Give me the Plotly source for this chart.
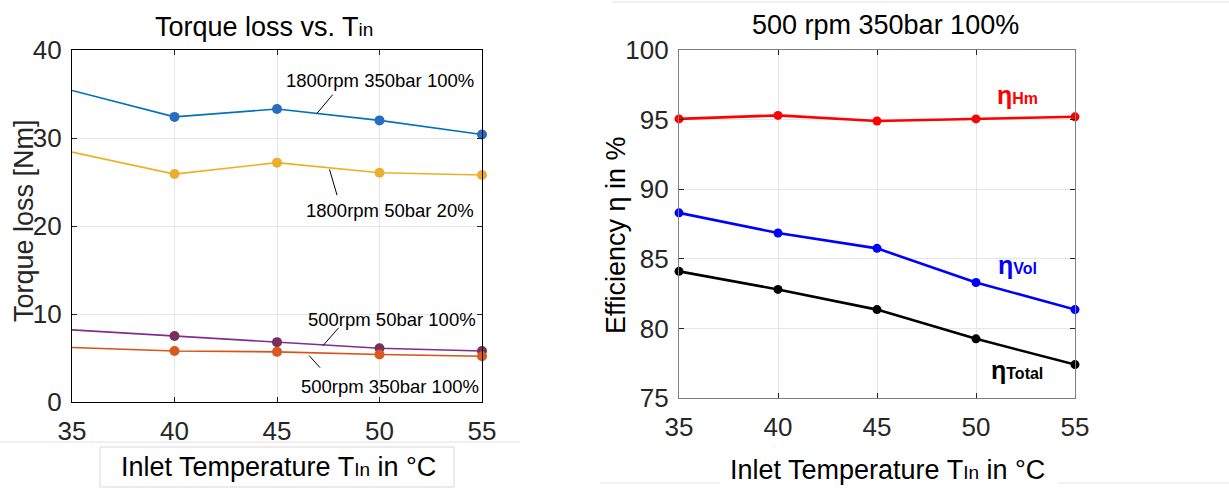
import plotly.graph_objects as go

# ---------------- data ----------------
temps = [35, 40, 45, 50, 55]
x_ticks = [35, 40, 45, 50, 55]

torque_1800_350_100 = [35.4, 32.4, 33.3, 32.0, 30.4]
torque_1800_50_20 = [28.4, 25.9, 27.2, 26.05, 25.8]
torque_500_50_100 = [8.2, 7.5, 6.8, 6.1, 5.8]
torque_500_350_100 = [6.2, 5.8, 5.7, 5.4, 5.2]

eta_hm = [95.05, 95.3, 94.9, 95.05, 95.2]
eta_vol = [88.3, 86.85, 85.75, 83.3, 81.35]
eta_total = [84.1, 82.8, 81.35, 79.25, 77.4]

left_labels = ["1800rpm 350bar 100%", "1800rpm 50bar 20%", "500rpm 50bar 100%", "500rpm 350bar 100%"]

FONT = "Liberation Sans Narrow, Arial Narrow, Liberation Sans, Arial, sans-serif"
W, H = 1229, 489

def px_x(p):
    return p / W

def px_y(p):
    return 1 - p / H

fig = go.Figure()

left_marker_sizes = [0, 10, 10, 10, 10]

def add_left(y, line_color, marker_color):
    fig.add_trace(go.Scatter(
        x=temps, y=y, mode="lines+markers",
        line=dict(color=line_color, width=1.6),
        marker=dict(color=marker_color, size=left_marker_sizes, opacity=1, line=dict(width=0)),
        xaxis="x", yaxis="y", showlegend=False, cliponaxis=False))

add_left(torque_1800_350_100, "#0072BD", "#2A6CC0")
add_left(torque_1800_50_20, "#EDB120", "#E9B030")
add_left(torque_500_50_100, "#7E2F8E", "#77305C")
add_left(torque_500_350_100, "#D95319", "#D65A22")

def add_right(y, color):
    fig.add_trace(go.Scatter(
        x=temps, y=y, mode="lines+markers",
        line=dict(color=color, width=2.6),
        marker=dict(color=color, size=9, opacity=1, line=dict(width=0)),
        xaxis="x2", yaxis="y2", showlegend=False, cliponaxis=False))

add_right(eta_hm, "#FF0000")
add_right(eta_vol, "#0000FF")
add_right(eta_total, "#000000")

axis_common = dict(
    showline=True, linewidth=1.3, mirror="ticks", automargin=False,
    ticks="inside", ticklen=5, tickcolor="#262626",
    showgrid=True, gridcolor="#E6E6E6", gridwidth=1, zeroline=False,
    tickfont=dict(family=FONT, size=26, color="#262626"),
)

fig.update_layout(
    template="none",
    width=W, height=H, autosize=False,
    margin=dict(l=0, r=0, t=0, b=0, pad=0),
    paper_bgcolor="white", plot_bgcolor="white",
    font=dict(family=FONT, color="#000000"),
    xaxis=dict(domain=[px_x(72), px_x(482)], range=[35, 55], tickvals=x_ticks,
               anchor="y", linecolor="#000000", ticklabelstandoff=6, **axis_common),
    yaxis=dict(domain=[px_y(402), px_y(50)], range=[0, 40], tickvals=[0, 10, 20, 30, 40],
               anchor="x", linecolor="#000000", ticklabelstandoff=4, **axis_common),
    xaxis2=dict(domain=[px_x(679), px_x(1075)], range=[35, 55], tickvals=x_ticks,
                anchor="y2", linecolor="#808080", ticklabelstandoff=6, **axis_common),
    yaxis2=dict(domain=[px_y(398), px_y(50)], range=[75, 100], tickvals=[75, 80, 85, 90, 95, 100],
                anchor="x2", linecolor="#808080", ticklabelstandoff=4, **axis_common),
)

ann = []
# titles
ann.append(dict(xref="paper", yref="paper", x=px_x(264), y=px_y(27), xanchor="center", yanchor="middle",
                text="Torque loss vs. T<span style='font-size:19px'>in</span>", showarrow=False,
                font=dict(family=FONT, size=27, color="#000")))
ann.append(dict(xref="paper", yref="paper", x=px_x(885), y=px_y(25), xanchor="center", yanchor="middle",
                text="500 rpm 350bar 100%", showarrow=False,
                font=dict(family=FONT, size=27, color="#000")))
# axis titles
ann.append(dict(xref="paper", yref="paper", x=px_x(24), y=px_y(221), xanchor="center", yanchor="middle",
                text="Torque loss [Nm]", textangle=-90, showarrow=False,
                font=dict(family=FONT, size=27, color="#262626")))
ann.append(dict(xref="paper", yref="paper", x=px_x(616), y=px_y(235), xanchor="center", yanchor="middle",
                text="Efficiency η in %", textangle=-90, showarrow=False,
                font=dict(family=FONT, size=27, color="#000")))
xt = "Inlet Temperature T<span style='font-size:19px'>In</span> in °C"
ann.append(dict(xref="paper", yref="paper", x=px_x(278), y=px_y(467), xanchor="center", yanchor="middle",
                text=xt, showarrow=False, font=dict(family=FONT, size=27, color="#000")))
ann.append(dict(xref="paper", yref="paper", x=px_x(888), y=px_y(470), xanchor="center", yanchor="middle",
                text=xt, showarrow=False, font=dict(family=FONT, size=27, color="#000")))

# left series labels (data coords)
lab_pos = [(50.0, 36.5), (50.5, 21.8), (50.6, 9.4), (50.5, 1.8)]
for (lx, ly), t in zip(lab_pos, left_labels):
    ann.append(dict(xref="x", yref="y", x=lx, y=ly, xanchor="center", yanchor="middle",
                    text=t, showarrow=False, font=dict(family=FONT, size=18.5, color="#000")))
pointers = [((47.78, 35.1), (46.95, 32.8)), ((47.54, 26.6), (47.93, 23.5)),
            ((48.07, 8.6), (47.24, 6.4)), ((46.5, 5.45), (47.1, 3.9))]
for (a, b) in pointers:
    ann.append(dict(xref="x", yref="y", axref="x", ayref="y", x=b[0], y=b[1], ax=a[0], ay=a[1],
                    text="", showarrow=True, arrowhead=0, arrowwidth=1, arrowcolor="#000"))

# right series labels
def eta_label(sub, color, py):
    return dict(xref="paper", yref="paper", x=px_x(1017), y=px_y(py), xanchor="center", yanchor="middle",
                text=f"<b>η<span style='font-size:16px'>{sub}</span></b>", showarrow=False,
                font=dict(family="Liberation Sans, Arial, sans-serif", size=25, color=color))
ann.append(eta_label("Hm", "#FF0000", 95))
ann.append(eta_label("Vol", "#0000FF", 265))
ann.append(eta_label("Total", "#000000", 370))

fig.update_layout(annotations=ann)

shapes = [
    # white patch over grid in right panel
    dict(type="rect", xref="paper", yref="paper", x0=px_x(958), x1=px_x(1074), y0=px_y(268), y1=px_y(172),
         fillcolor="white", line=dict(width=0), layer="between"),
    # faint box around left x title
    dict(type="rect", xref="paper", yref="paper", x0=px_x(100), x1=px_x(454), y0=px_y(487), y1=px_y(447),
         fillcolor="rgba(0,0,0,0)", line=dict(color="#D8D8D8", width=1), layer="below"),
    dict(type="line", xref="paper", yref="paper", x0=0, x1=px_x(520), y0=px_y(442), y1=px_y(442),
         line=dict(color="#E2E2E2", width=1), layer="below"),
    dict(type="line", xref="paper", yref="paper", x0=px_x(612), x1=1, y0=px_y(2), y1=px_y(2),
         line=dict(color="#E2E2E2", width=1), layer="below"),
    dict(type="line", xref="paper", yref="paper", x0=px_x(600), x1=px_x(720), y0=px_y(483), y1=px_y(483),
         line=dict(color="#E2E2E2", width=1), layer="below"),
    dict(type="line", xref="paper", yref="paper", x0=px_x(1058), x1=1, y0=px_y(483), y1=px_y(483),
         line=dict(color="#E2E2E2", width=1), layer="below"),
]
fig.update_layout(shapes=shapes)

fig.write_html("out.html", config={"displayModeBar": False},
               post_script="document.body.style.margin='0px';document.body.style.overflow='hidden';")
